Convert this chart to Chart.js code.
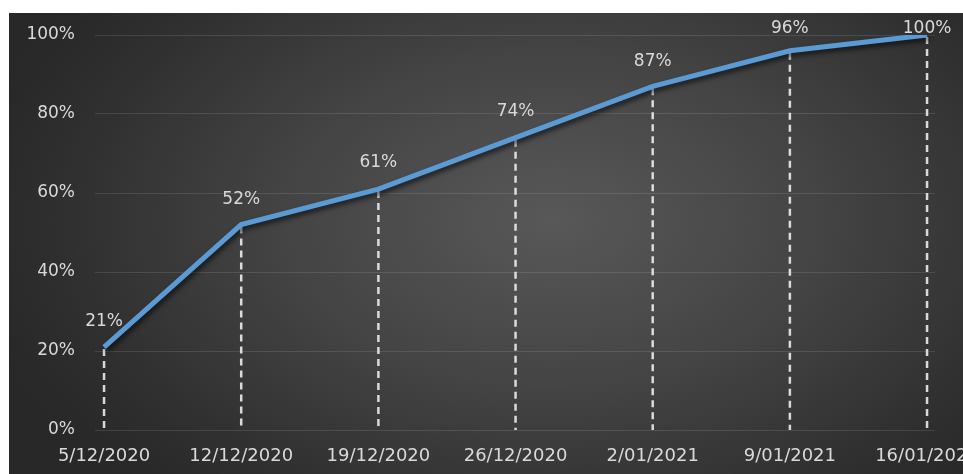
<!DOCTYPE html>
<html lang="en">
<head>
<meta charset="UTF-8">
<title>Progress</title>
<script src="https://cdn.jsdelivr.net/npm/chart.js"></script>
<style>
  html, body { margin: 0; padding: 0; background: #fff; overflow: hidden; }
  #wrap {
    position: absolute; left: 9px; top: 13px; width: 954px; height: 461px;
    background: radial-gradient(ellipse 62% 80% at 57% 45%, #585858 0%, #444 45%, #2e2e2e 85%, #282828 100%);
  }
  canvas { display: block; }
</style>
</head>
<body>
<div id="wrap"><canvas id="progressChart" width="954" height="461"></canvas></div>
<script>
// dates on the x axis
const dates = ['5/12/2020', '12/12/2020', '19/12/2020', '26/12/2020', '2/01/2021', '9/01/2021', '16/01/2021'];
// cumulative progress (%)
const progress = [21, 52, 61, 74, 87, 96, 100];
// y axis ticks
const yTicks = [0, 20, 40, 60, 80, 100];

const textColor = '#d9d9d9';
const fontFamily = '"DejaVu Sans", Verdana, sans-serif';

// dashed drop lines from each point down to the axis
const dropLines = {
  id: 'dropLines',
  beforeDatasetsDraw(chart) {
    const ctx = chart.ctx;
    const meta = chart.getDatasetMeta(0);
    const bottom = chart.chartArea.bottom;
    ctx.save();
    ctx.strokeStyle = 'rgba(235,235,235,0.9)';
    ctx.lineWidth = 2.5;
    ctx.setLineDash([7, 5]);
    meta.data.forEach(pt => {
      ctx.beginPath();
      ctx.moveTo(pt.x, pt.y + 2);
      ctx.lineTo(pt.x, bottom);
      ctx.stroke();
    });
    ctx.restore();
  }
};

// dark shadow under the line
const lineShadow = {
  id: 'lineShadow',
  beforeDatasetDraw(chart) {
    const ctx = chart.ctx;
    ctx.save();
    ctx.shadowColor = 'rgba(0,0,0,0.65)';
    ctx.shadowBlur = 5;
    ctx.shadowOffsetX = 2;
    ctx.shadowOffsetY = 3;
  },
  afterDatasetDraw(chart) {
    chart.ctx.restore();
  }
};

// value labels above the points
const valueLabels = {
  id: 'valueLabels',
  afterDatasetsDraw(chart, args, opts) {
    const ctx = chart.ctx;
    const meta = chart.getDatasetMeta(0);
    ctx.save();
    ctx.fillStyle = textColor;
    ctx.font = '17px ' + fontFamily;
    ctx.textAlign = 'center';
    ctx.textBaseline = 'middle';
    meta.data.forEach((pt, i) => {
      const lift = opts.lift[i] !== undefined ? opts.lift[i] : 25;
      ctx.fillText(progress[i] + '%', pt.x, pt.y - lift);
    });
    ctx.restore();
  }
};

const ctx = document.getElementById('progressChart').getContext('2d');
new Chart(ctx, {
  type: 'line',
  data: {
    datasets: [{
      data: dates.map((d, i) => ({ x: i, y: progress[i] })),
      borderColor: '#5b9bd5',
      borderWidth: 5,
      pointRadius: 0,
      tension: 0,
      fill: false
    }]
  },
  options: {
    responsive: false,
    animation: false,
    layout: { padding: { top: 22, right: 28, left: 0, bottom: 0 } },
    plugins: {
      legend: { display: false },
      tooltip: { enabled: false },
      valueLabels: { lift: [25, 25, 26, 26, 25, 22, 6] }
    },
    scales: {
      x: {
        type: 'linear',
        min: -0.066,
        max: 6.058,
        grid: { display: false },
        border: { display: false },
        afterBuildTicks(scale) {
          scale.ticks = dates.map((d, i) => ({ value: i }));
        },
        afterFit(scale) {
          scale.height = 44;
          scale.paddingLeft = 0;
          scale.paddingRight = 0;
        },
        ticks: {
          color: textColor,
          font: { size: 18, family: fontFamily },
          maxRotation: 0,
          autoSkip: false,
          padding: 8,
          callback: v => dates[v]
        }
      },
      y: {
        min: 0,
        max: 100,
        afterBuildTicks(scale) {
          scale.ticks = yTicks.map(v => ({ value: v }));
        },
        afterFit(scale) {
          scale.width = 86;
          scale.paddingTop = 0;
          scale.paddingBottom = 0;
        },
        grid: { color: 'rgba(255,255,255,0.11)', lineWidth: 1, drawTicks: false },
        border: { display: false },
        ticks: {
          color: textColor,
          font: { size: 17, family: fontFamily },
          padding: 20,
          callback: v => v + '%'
        }
      }
    }
  },
  plugins: [dropLines, lineShadow, valueLabels]
});
</script>
</body>
</html>
